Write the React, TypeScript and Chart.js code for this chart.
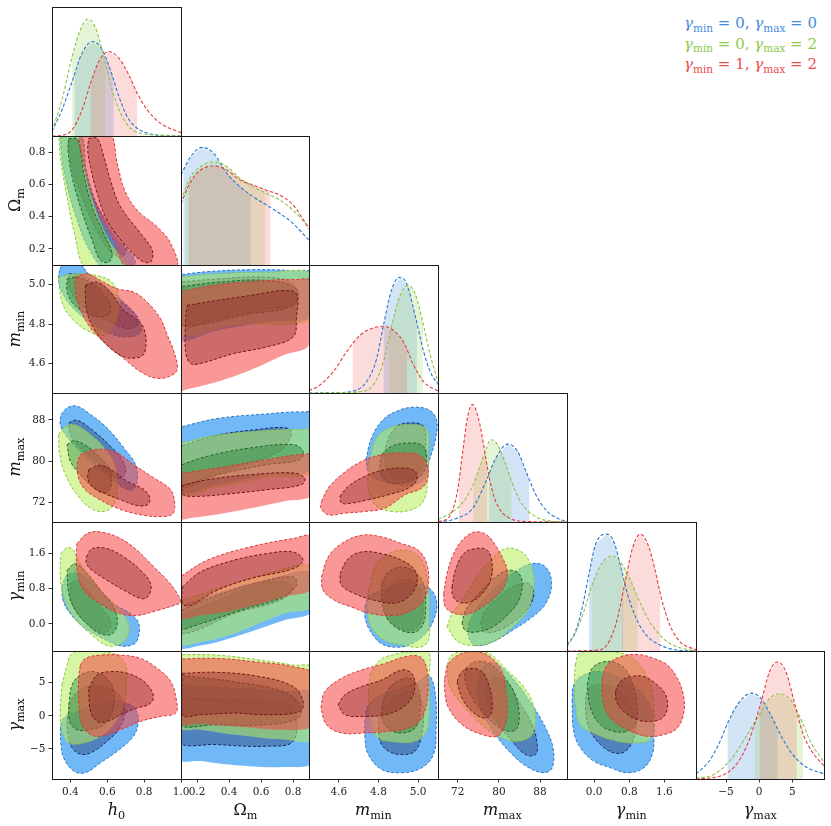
import React, { useEffect, useRef } from 'react';
import { Chart, registerables } from 'chart.js';

Chart.register(...registerables);

// ---------------- axes ----------------
const PARAMS = ['h0', 'Om', 'mmin', 'mmax', 'gmin', 'gmax'];
const RANGES: Record<string, number[]> = {
  h0: [0.3, 1.0],
  Om: [0.1, 0.9],
  mmin: [4.45, 5.1],
  mmax: [68.15, 93.25],
  gmin: [-0.62, 2.32],
  gmax: [-9.53, 9.79],
};
const TICKS: Record<string, number[]> = {
  h0: [0.4, 0.6, 0.8, 1.0],
  Om: [0.2, 0.4, 0.6, 0.8],
  mmin: [4.6, 4.8, 5.0],
  mmax: [72, 80, 88],
  gmin: [0.0, 0.8, 1.6],
  gmax: [-5, 0, 5],
};
const DECIMALS: Record<string, number> = { h0: 1, Om: 1, mmin: 1, mmax: 0, gmin: 1, gmax: 0 };

// ---------------- legend ----------------
const LEGEND = [
  { model: 'blue', gmin: '0', gmax: '0' },
  { model: 'green', gmin: '0', gmax: '2' },
  { model: 'red', gmin: '1', gmax: '2' },
];

// ---------------- 1D marginals: [value, relative density] ----------------
const H0_1D = {
  blue: [[0.3, 0.034], [0.354, 0.202], [0.409, 0.422], [0.463, 0.642], [0.521, 0.733], [0.572, 0.668], [0.617, 0.513], [0.663, 0.306], [0.708, 0.15], [0.762, 0.06], [0.835, 0.016], [0.926, 0.003], [1.0, 0.0]],
  green: [[0.3, 0.039], [0.354, 0.28], [0.409, 0.614], [0.454, 0.824], [0.496, 0.907], [0.536, 0.839], [0.581, 0.617], [0.626, 0.358], [0.672, 0.176], [0.726, 0.059], [0.781, 0.021], [0.853, 0.008], [1.0, 0.0]],
  red: [[0.3, 0.0], [0.354, 0.005], [0.409, 0.047], [0.463, 0.202], [0.509, 0.409], [0.554, 0.578], [0.608, 0.655], [0.663, 0.603], [0.717, 0.474], [0.762, 0.332], [0.817, 0.202], [0.889, 0.098], [1.0, 0.026]],
};
const H0_CI = { blue: [0.421, 0.635], green: [0.409, 0.59], red: [0.509, 0.762] };

const OM_1D = {
  blue: [[0.1, 0.697], [0.16, 0.839], [0.232, 0.912], [0.305, 0.865], [0.387, 0.71], [0.47, 0.606], [0.553, 0.528], [0.635, 0.464], [0.718, 0.399], [0.801, 0.321], [0.9, 0.192]],
  green: [[0.1, 0.503], [0.16, 0.684], [0.222, 0.762], [0.305, 0.801], [0.387, 0.762], [0.47, 0.671], [0.553, 0.606], [0.635, 0.554], [0.718, 0.503], [0.801, 0.425], [0.9, 0.295]],
  red: [[0.1, 0.477], [0.16, 0.645], [0.222, 0.736], [0.305, 0.767], [0.387, 0.736], [0.47, 0.658], [0.553, 0.619], [0.635, 0.58], [0.718, 0.541], [0.801, 0.464], [0.9, 0.282]],
};
const OM_CI = { blue: [0.114, 0.536], green: [0.129, 0.625], red: [0.15, 0.66] };

const MMIN_1D = {
  blue: [[4.45, 0.0], [4.57, 0.002], [4.656, 0.01], [4.74, 0.088], [4.791, 0.269], [4.825, 0.528], [4.867, 0.813], [4.909, 0.904], [4.943, 0.85], [4.985, 0.604], [5.027, 0.326], [5.061, 0.166], [5.1, 0.067]],
  green: [[4.45, 0.0], [4.6, 0.002], [4.707, 0.01], [4.774, 0.062], [4.825, 0.244], [4.867, 0.528], [4.909, 0.762], [4.951, 0.839], [4.985, 0.775], [5.027, 0.528], [5.061, 0.295], [5.1, 0.088]],
  red: [[4.45, 0.016], [4.504, 0.062], [4.572, 0.166], [4.639, 0.321], [4.707, 0.451], [4.774, 0.508], [4.825, 0.521], [4.875, 0.49], [4.926, 0.399], [4.977, 0.218], [5.027, 0.088], [5.1, 0.016]],
};
const MMIN_CI = { blue: [4.825, 4.994], green: [4.85, 5.024], red: [4.669, 4.946] };

const MMAX_1D = {
  blue: [[68.2, 0.0], [71.59, 0.026], [74.85, 0.104], [77.46, 0.313], [79.41, 0.495], [81.7, 0.604], [83.65, 0.547], [85.28, 0.391], [87.24, 0.208], [89.19, 0.091], [91.8, 0.021], [93.3, 0.005]],
  green: [[68.2, 0.021], [70.94, 0.078], [73.55, 0.182], [75.5, 0.339], [77.13, 0.521], [78.44, 0.638], [79.74, 0.599], [81.37, 0.443], [83.0, 0.26], [84.63, 0.13], [87.24, 0.039], [90.5, 0.005], [93.3, 0.0]],
  red: [[68.2, 0.003], [70.29, 0.039], [71.92, 0.234], [72.89, 0.521], [73.87, 0.807], [74.85, 0.911], [75.83, 0.833], [76.81, 0.651], [77.78, 0.417], [78.76, 0.234], [80.07, 0.104], [82.02, 0.031], [84.63, 0.005], [93.3, 0.0]],
};
const MMAX_CI = { blue: [77.98, 85.93], green: [74.98, 82.48], red: [72.24, 77.78] };

const GMIN_1D = {
  blue: [[-0.62, 0.047], [-0.428, 0.151], [-0.275, 0.333], [-0.121, 0.594], [0.032, 0.828], [0.286, 0.906], [0.455, 0.841], [0.608, 0.646], [0.762, 0.438], [0.954, 0.255], [1.184, 0.125], [1.491, 0.047], [1.875, 0.008], [2.32, 0.0]],
  green: [[-0.62, 0.034], [-0.428, 0.138], [-0.236, 0.307], [-0.044, 0.516], [0.186, 0.685], [0.416, 0.737], [0.608, 0.685], [0.8, 0.568], [1.03, 0.385], [1.261, 0.229], [1.568, 0.099], [1.875, 0.034], [2.32, 0.0]],
  red: [[-0.62, 0.0], [0.109, 0.008], [0.34, 0.073], [0.531, 0.255], [0.723, 0.568], [0.877, 0.802], [1.053, 0.906], [1.222, 0.828], [1.376, 0.646], [1.529, 0.411], [1.721, 0.203], [1.951, 0.073], [2.32, 0.008]],
};
const GMIN_CI = { blue: [-0.121, 0.662], green: [-0.06, 0.992], red: [0.631, 1.506] };

const GMAX_1D = {
  blue: [[-9.53, 0.039], [-7.68, 0.131], [-6.19, 0.261], [-4.69, 0.444], [-3.19, 0.587], [-1.19, 0.671], [0.3, 0.627], [1.8, 0.496], [3.3, 0.339], [4.8, 0.209], [6.79, 0.104], [9.79, 0.039]],
  green: [[-9.53, 0.005], [-6.68, 0.039], [-4.19, 0.157], [-2.19, 0.313], [-0.2, 0.483], [1.55, 0.627], [3.05, 0.666], [4.8, 0.614], [6.29, 0.47], [7.79, 0.287], [9.79, 0.131]],
  red: [[-9.53, 0.0], [-5.69, 0.026], [-3.19, 0.131], [-1.44, 0.313], [0.3, 0.601], [1.55, 0.836], [2.8, 0.914], [4.05, 0.836], [5.3, 0.601], [6.54, 0.366], [8.04, 0.209], [9.79, 0.104]],
};
const GMAX_CI = { blue: [-4.79, 2.8], green: [-0.69, 6.64], red: [0.05, 5.69] };

// ---------------- 2D credible contours: outer (95%) and inner (68%) ----------------
const OM_vs_H0 = {
  blue: {
    outer: [[0.345, 0.937], [0.45, 0.937], [0.49, 0.668], [0.55, 0.46], [0.64, 0.28], [0.75, 0.13], [0.72, 0.06], [0.6, 0.06], [0.5, 0.2], [0.43, 0.4], [0.38, 0.6], [0.35, 0.8]],
    inner: [[0.39, 0.88], [0.44, 0.88], [0.48, 0.66], [0.54, 0.48], [0.63, 0.32], [0.7, 0.2], [0.68, 0.15], [0.62, 0.18], [0.54, 0.32], [0.47, 0.5], [0.41, 0.7]],
  },
  green: {
    outer: [[0.336, 0.937], [0.44, 0.937], [0.481, 0.668], [0.536, 0.44], [0.608, 0.253], [0.699, 0.088], [0.563, 0.025], [0.472, 0.088], [0.422, 0.295], [0.378, 0.544], [0.345, 0.772]],
    inner: [[0.391, 0.885], [0.44, 0.875], [0.472, 0.668], [0.518, 0.461], [0.581, 0.295], [0.626, 0.17], [0.608, 0.119], [0.563, 0.129], [0.518, 0.253], [0.454, 0.461], [0.409, 0.647], [0.387, 0.813]],
  },
  red: {
    outer: [[0.44, 0.927], [0.608, 0.927], [0.654, 0.73], [0.694, 0.564], [0.762, 0.44], [0.871, 0.336], [0.944, 0.233], [0.971, 0.088], [0.708, 0.088], [0.635, 0.253], [0.563, 0.398], [0.505, 0.585], [0.463, 0.772]],
    inner: [[0.499, 0.885], [0.545, 0.885], [0.581, 0.772], [0.617, 0.626], [0.672, 0.461], [0.781, 0.295], [0.844, 0.191], [0.835, 0.119], [0.781, 0.129], [0.69, 0.233], [0.599, 0.378], [0.545, 0.544], [0.509, 0.709], [0.494, 0.813]],
  },
};

const MMIN_vs_H0 = {
  blue: {
    outer: [[0.342, 5.08], [0.373, 5.113], [0.454, 5.105], [0.49, 5.063], [0.581, 4.996], [0.69, 4.911], [0.771, 4.827], [0.781, 4.76], [0.726, 4.735], [0.617, 4.751], [0.509, 4.81], [0.418, 4.878], [0.354, 4.962], [0.336, 5.029]],
    inner: [[0.391, 5.055], [0.463, 5.049], [0.545, 4.996], [0.654, 4.928], [0.753, 4.844], [0.762, 4.794], [0.708, 4.777], [0.617, 4.81], [0.509, 4.861], [0.427, 4.928], [0.391, 4.996]],
  },
  green: {
    outer: [[0.336, 5.038], [0.427, 5.055], [0.545, 5.046], [0.626, 5.012], [0.663, 4.928], [0.645, 4.81], [0.581, 4.743], [0.49, 4.768], [0.409, 4.827], [0.354, 4.911]],
    inner: [[0.382, 5.029], [0.445, 5.038], [0.527, 4.996], [0.599, 4.928], [0.617, 4.861], [0.563, 4.836], [0.472, 4.861], [0.409, 4.911], [0.382, 4.97]],
  },
  red: {
    outer: [[0.427, 5.038], [0.49, 5.055], [0.581, 5.012], [0.654, 4.979], [0.744, 4.962], [0.817, 4.911], [0.889, 4.827], [0.926, 4.743], [0.962, 4.659], [0.98, 4.575], [0.953, 4.541], [0.871, 4.524], [0.781, 4.558], [0.69, 4.625], [0.581, 4.709], [0.499, 4.794], [0.445, 4.895], [0.427, 4.979]],
    inner: [[0.481, 4.996], [0.545, 5.012], [0.617, 4.962], [0.681, 4.878], [0.753, 4.827], [0.799, 4.777], [0.808, 4.676], [0.781, 4.634], [0.69, 4.634], [0.599, 4.692], [0.527, 4.777], [0.49, 4.861], [0.481, 4.945]],
  },
};

const MMIN_vs_OM = {
  blue: {
    outer: [[0.077, 5.049], [0.263, 5.066], [0.532, 5.076], [0.801, 5.071], [0.925, 5.055], [0.925, 4.844], [0.635, 4.81], [0.325, 4.768], [0.077, 4.726]],
    inner: [[0.077, 5.012], [0.325, 5.029], [0.635, 5.038], [0.801, 5.004], [0.821, 4.911], [0.635, 4.878], [0.325, 4.827], [0.077, 4.785]],
  },
  green: {
    outer: [[0.077, 5.038], [0.325, 5.055], [0.635, 5.063], [0.925, 5.049], [0.925, 4.827], [0.429, 4.794], [0.077, 4.751]],
    inner: [[0.077, 4.987], [0.325, 5.012], [0.635, 5.021], [0.821, 4.979], [0.801, 4.895], [0.532, 4.852], [0.077, 4.802]],
  },
  red: {
    outer: [[0.077, 4.962], [0.325, 4.999], [0.635, 5.021], [0.801, 5.026], [0.925, 5.012], [0.904, 4.701], [0.739, 4.642], [0.532, 4.566], [0.325, 4.507], [0.139, 4.469], [0.077, 4.465]],
    inner: [[0.139, 4.895], [0.325, 4.92], [0.532, 4.945], [0.739, 4.97], [0.821, 4.953], [0.821, 4.827], [0.801, 4.735], [0.635, 4.684], [0.429, 4.65], [0.222, 4.6], [0.16, 4.6], [0.129, 4.659], [0.129, 4.827]],
  },
};

const MMAX_vs_H0 = {
  blue: {
    outer: [[0.349, 89.05], [0.382, 90.35], [0.436, 90.68], [0.509, 89.05], [0.599, 86.45], [0.69, 82.55], [0.753, 79.3], [0.762, 76.05], [0.735, 74.43], [0.69, 74.75], [0.617, 76.7], [0.527, 79.3], [0.436, 82.55], [0.373, 85.15], [0.345, 87.1]],
    inner: [[0.391, 87.43], [0.436, 87.95], [0.527, 85.8], [0.617, 82.88], [0.681, 80.28], [0.699, 78.0], [0.672, 76.7], [0.617, 77.35], [0.545, 79.63], [0.454, 82.55], [0.4, 85.15]],
  },
  green: {
    outer: [[0.336, 85.15], [0.363, 86.45], [0.418, 87.1], [0.509, 85.15], [0.599, 81.9], [0.645, 78.65], [0.654, 74.75], [0.635, 71.5], [0.581, 70.2], [0.509, 70.85], [0.436, 73.45], [0.373, 77.35], [0.342, 81.25]],
    inner: [[0.382, 83.2], [0.418, 83.98], [0.49, 82.88], [0.563, 80.6], [0.617, 78.0], [0.617, 74.75], [0.581, 73.78], [0.527, 74.75], [0.454, 77.35], [0.4, 79.95]],
  },
  red: {
    outer: [[0.454, 81.25], [0.527, 82.23], [0.635, 81.9], [0.744, 79.3], [0.853, 76.7], [0.935, 74.75], [0.962, 72.8], [0.958, 69.88], [0.908, 69.23], [0.781, 69.55], [0.654, 70.85], [0.545, 72.8], [0.472, 74.75], [0.44, 77.35], [0.44, 79.95]],
    inner: [[0.499, 78.33], [0.563, 79.17], [0.635, 78.0], [0.708, 76.05], [0.799, 74.43], [0.831, 72.8], [0.817, 71.5], [0.762, 71.37], [0.672, 72.48], [0.581, 73.78], [0.518, 75.08], [0.494, 76.7]],
  },
};

const MMAX_vs_OM = {
  blue: {
    outer: [[0.077, 86.45], [0.325, 88.27], [0.635, 89.18], [0.842, 89.57], [0.925, 89.05], [0.925, 78.65], [0.635, 77.35], [0.325, 75.4], [0.077, 74.1]],
    inner: [[0.077, 82.68], [0.325, 85.02], [0.553, 86.06], [0.759, 86.45], [0.79, 85.15], [0.718, 81.9], [0.429, 78.65], [0.181, 75.4], [0.077, 74.75]],
  },
  green: {
    outer: [[0.077, 83.33], [0.325, 85.02], [0.635, 85.93], [0.842, 86.13], [0.925, 85.8], [0.925, 78.0], [0.635, 76.7], [0.325, 74.75], [0.077, 73.45]],
    inner: [[0.077, 78.98], [0.263, 80.93], [0.532, 82.55], [0.801, 83.2], [0.863, 81.9], [0.842, 80.28], [0.635, 79.3], [0.325, 77.35], [0.077, 75.4]],
  },
  red: {
    outer: [[0.077, 77.48], [0.325, 78.65], [0.635, 80.28], [0.842, 81.25], [0.925, 80.93], [0.925, 73.58], [0.739, 72.15], [0.429, 70.2], [0.181, 69.03], [0.077, 69.03]],
    inner: [[0.108, 75.27], [0.263, 76.38], [0.532, 77.35], [0.801, 77.68], [0.873, 76.7], [0.852, 75.4], [0.635, 74.43], [0.387, 73.58], [0.181, 73.13], [0.108, 73.58]],
  },
};

const MMAX_vs_MMIN = {
  blue: {
    outer: [[4.737, 80.28], [4.765, 84.5], [4.824, 88.08], [4.9, 89.83], [4.984, 90.48], [5.06, 89.83], [5.094, 87.75], [5.085, 83.85], [5.055, 79.95], [5.035, 76.7], [4.967, 75.4], [4.85, 75.73], [4.757, 77.35]],
    inner: [[4.85, 84.5], [4.892, 86.78], [4.967, 87.43], [5.026, 86.78], [5.038, 83.2], [5.026, 79.3], [4.984, 77.03], [4.9, 76.7], [4.841, 78.65], [4.833, 81.9]],
  },
  green: {
    outer: [[4.749, 79.3], [4.791, 84.5], [4.866, 86.58], [4.967, 87.1], [5.043, 86.13], [5.052, 81.25], [5.048, 76.05], [5.026, 72.15], [4.967, 70.53], [4.866, 70.2], [4.782, 71.5], [4.749, 74.75]],
    inner: [[4.816, 81.25], [4.866, 82.88], [4.951, 83.53], [5.026, 82.88], [5.043, 79.95], [5.018, 77.35], [4.951, 76.05], [4.866, 75.73], [4.816, 77.03], [4.808, 79.3]],
  },
  red: {
    outer: [[4.513, 72.15], [4.547, 74.75], [4.614, 77.35], [4.715, 79.95], [4.816, 81.25], [4.917, 81.58], [5.001, 81.25], [5.043, 79.63], [5.048, 76.7], [5.018, 74.75], [4.934, 73.45], [4.833, 70.85], [4.732, 70.2], [4.631, 69.88], [4.547, 69.55], [4.51, 70.85]],
    inner: [[4.606, 73.13], [4.648, 75.08], [4.732, 77.03], [4.833, 78.33], [4.934, 78.65], [4.984, 78.0], [4.993, 76.38], [4.951, 74.75], [4.85, 73.45], [4.749, 72.48], [4.664, 71.83], [4.614, 71.83]],
  },
};

const GMIN_vs_H0 = {
  blue: {
    outer: [[0.354, 0.838], [0.382, 1.104], [0.454, 1.142], [0.545, 0.838], [0.635, 0.457], [0.726, 0.229], [0.771, 0.0], [0.762, -0.38], [0.726, -0.494], [0.663, -0.494], [0.563, -0.304], [0.472, -0.076], [0.4, 0.229], [0.36, 0.533]],
    inner: [[0.4, 0.914], [0.436, 0.99], [0.509, 0.686], [0.581, 0.305], [0.617, 0.076], [0.608, -0.152], [0.563, -0.19], [0.49, 0.0], [0.427, 0.305], [0.4, 0.609]],
  },
  green: {
    outer: [[0.349, 1.599], [0.382, 1.736], [0.418, 1.675], [0.454, 1.371], [0.509, 1.066], [0.581, 0.686], [0.654, 0.381], [0.708, 0.076], [0.717, -0.228], [0.672, -0.456], [0.599, -0.494], [0.509, -0.228], [0.418, 0.153], [0.363, 0.609], [0.345, 1.142]],
    inner: [[0.382, 1.218], [0.427, 1.371], [0.49, 1.142], [0.563, 0.762], [0.635, 0.381], [0.654, 0.0], [0.626, -0.228], [0.563, -0.228], [0.49, 0.0], [0.427, 0.305], [0.391, 0.686]],
  },
  red: {
    outer: [[0.436, 1.827], [0.49, 2.056], [0.563, 2.094], [0.672, 1.942], [0.762, 1.675], [0.853, 1.295], [0.926, 0.99], [0.98, 0.686], [0.998, 0.495], [0.962, 0.419], [0.871, 0.305], [0.762, 0.191], [0.672, 0.229], [0.563, 0.457], [0.472, 0.762], [0.436, 1.218], [0.432, 1.599]],
    inner: [[0.487, 1.523], [0.518, 1.713], [0.599, 1.713], [0.69, 1.523], [0.781, 1.218], [0.835, 0.914], [0.826, 0.647], [0.79, 0.571], [0.708, 0.724], [0.599, 0.99], [0.518, 1.218], [0.487, 1.371]],
  },
};

const GMIN_vs_OM = {
  blue: {
    outer: [[0.077, 0.381], [0.325, 0.686], [0.635, 0.99], [0.925, 1.142], [0.925, 0.305], [0.739, 0.076], [0.429, -0.304], [0.222, -0.494], [0.077, -0.517]],
    inner: [[0.077, 0.153], [0.325, 0.533], [0.594, 0.914], [0.759, 0.952], [0.801, 0.8], [0.718, 0.533], [0.429, 0.229], [0.222, -0.114], [0.108, -0.228], [0.077, -0.152]],
  },
  green: {
    outer: [[0.077, 0.495], [0.325, 0.8], [0.635, 1.142], [0.925, 1.295], [0.925, 0.419], [0.739, 0.229], [0.429, -0.228], [0.222, -0.418], [0.077, -0.441]],
    inner: [[0.077, 0.267], [0.325, 0.647], [0.594, 0.952], [0.801, 1.066], [0.821, 0.876], [0.739, 0.609], [0.47, 0.305], [0.222, 0.0], [0.077, -0.114]],
  },
  red: {
    outer: [[0.077, 1.028], [0.263, 1.447], [0.532, 1.751], [0.801, 1.942], [0.925, 1.98], [0.925, 0.838], [0.739, 0.609], [0.429, 0.305], [0.222, 0.191], [0.077, 0.153]],
    inner: [[0.108, 0.838], [0.222, 1.18], [0.429, 1.447], [0.635, 1.599], [0.801, 1.637], [0.863, 1.447], [0.801, 1.256], [0.532, 1.028], [0.325, 0.762], [0.16, 0.419], [0.108, 0.457]],
  },
};

const GMIN_vs_MMIN = {
  blue: {
    outer: [[4.732, 0.381], [4.749, 0.609], [4.816, 0.762], [4.917, 0.914], [5.001, 0.914], [5.068, 0.762], [5.094, 0.457], [5.077, 0.076], [5.035, -0.228], [4.967, -0.456], [4.9, -0.533], [4.816, -0.456], [4.757, -0.152], [4.732, 0.153]],
    inner: [[4.824, 0.533], [4.85, 0.8], [4.908, 0.99], [4.967, 0.99], [5.009, 0.762], [5.026, 0.381], [5.009, 0.0], [4.967, -0.152], [4.9, -0.076], [4.841, 0.153]],
  },
  green: {
    outer: [[4.749, 0.762], [4.791, 1.371], [4.85, 1.599], [4.917, 1.675], [4.984, 1.599], [5.026, 1.371], [5.052, 0.762], [5.055, 0.153], [5.052, -0.38], [5.009, -0.533], [4.934, -0.494], [4.833, -0.38], [4.765, -0.076], [4.745, 0.305]],
    inner: [[4.816, 0.914], [4.85, 1.18], [4.917, 1.295], [4.984, 1.18], [5.026, 0.914], [5.038, 0.457], [5.026, 0.0], [4.984, -0.19], [4.917, -0.152], [4.85, 0.076], [4.819, 0.457]],
  },
  red: {
    outer: [[4.513, 1.066], [4.547, 1.523], [4.614, 1.827], [4.715, 2.018], [4.816, 1.98], [4.917, 1.827], [5.001, 1.675], [5.043, 1.371], [5.052, 0.914], [5.026, 0.533], [4.967, 0.305], [4.883, 0.191], [4.765, 0.229], [4.664, 0.381], [4.58, 0.533], [4.521, 0.762]],
    inner: [[4.606, 1.142], [4.648, 1.485], [4.715, 1.637], [4.816, 1.599], [4.917, 1.447], [4.984, 1.218], [4.993, 0.914], [4.951, 0.609], [4.883, 0.472], [4.782, 0.533], [4.681, 0.686], [4.614, 0.876]],
  },
};

const GMIN_vs_MMAX = {
  blue: {
    outer: [[74.13, 0.0], [75.43, 0.305], [78.68, 0.762], [82.58, 1.142], [86.48, 1.371], [89.08, 1.295], [90.25, 0.914], [89.08, 0.457], [86.48, 0.153], [82.58, -0.152], [78.68, -0.418], [75.43, -0.494], [74.13, -0.304]],
    inner: [[76.41, 0.0], [77.38, 0.305], [79.98, 0.609], [83.23, 0.876], [85.83, 0.914], [86.81, 0.686], [85.83, 0.381], [83.23, 0.076], [79.98, -0.152], [77.38, -0.19]],
  },
  green: {
    outer: [[69.91, -0.076], [70.88, 0.229], [72.83, 0.533], [76.08, 1.142], [78.68, 1.485], [81.28, 1.713], [83.88, 1.675], [85.83, 1.447], [86.81, 1.066], [86.48, 0.609], [85.18, 0.229], [82.58, -0.076], [79.33, -0.38], [76.08, -0.494], [72.18, -0.418]],
    inner: [[72.83, 0.0], [73.48, 0.305], [76.08, 0.686], [79.33, 1.066], [81.93, 1.218], [83.88, 1.142], [84.53, 0.914], [83.88, 0.533], [81.93, 0.229], [78.68, -0.076], [75.43, -0.19], [73.48, -0.152]],
  },
  red: {
    outer: [[69.26, 0.686], [69.91, 1.142], [71.21, 1.599], [73.16, 1.942], [75.43, 2.094], [77.71, 2.018], [79.33, 1.789], [80.63, 1.523], [81.61, 1.218], [81.28, 0.914], [79.33, 0.609], [76.73, 0.381], [74.13, 0.229], [71.53, 0.229], [69.58, 0.381]],
    inner: [[70.88, 0.838], [71.53, 1.218], [73.16, 1.599], [75.43, 1.713], [77.71, 1.675], [78.68, 1.371], [78.36, 0.99], [76.73, 0.686], [74.46, 0.495], [72.18, 0.495], [71.01, 0.647]],
  },
};

const GMAX_vs_H0 = {
  blue: {
    outer: [[0.345, -2.08], [0.363, -0.33], [0.436, 0.67], [0.527, 1.67], [0.635, 2.17], [0.726, 1.67], [0.766, 0.17], [0.762, -1.83], [0.735, -3.33], [0.654, -5.33], [0.563, -7.08], [0.481, -8.58], [0.418, -8.33], [0.363, -6.33], [0.349, -4.33]],
    inner: [[0.382, -0.58], [0.409, 2.67], [0.472, 4.17], [0.563, 4.42], [0.645, 3.67], [0.69, 1.67], [0.69, -0.33], [0.654, -2.33], [0.599, -3.83], [0.527, -5.33], [0.463, -5.83], [0.409, -4.83], [0.387, -2.83]],
  },
  green: {
    outer: [[0.354, 4.67], [0.382, 7.67], [0.409, 9.42], [0.49, 9.92], [0.581, 9.67], [0.654, 9.17], [0.699, 7.67], [0.704, 4.67], [0.69, 1.67], [0.635, -1.33], [0.563, -3.08], [0.472, -4.08], [0.391, -4.08], [0.354, -2.33], [0.345, 0.67]],
    inner: [[0.391, 1.67], [0.409, 4.67], [0.454, 6.17], [0.527, 6.67], [0.599, 5.67], [0.635, 3.67], [0.626, 0.67], [0.581, -1.33], [0.509, -2.08], [0.436, -2.08], [0.396, -0.83]],
  },
  red: {
    outer: [[0.454, 7.67], [0.481, 8.67], [0.563, 9.17], [0.672, 9.17], [0.781, 8.67], [0.871, 7.17], [0.944, 5.17], [0.976, 2.17], [0.971, 0.42], [0.889, -0.08], [0.781, -0.83], [0.672, -2.08], [0.563, -3.08], [0.509, -2.83], [0.463, -1.33], [0.445, 2.17], [0.445, 5.67]],
    inner: [[0.499, 4.17], [0.545, 6.17], [0.617, 6.67], [0.708, 6.42], [0.799, 5.17], [0.849, 3.17], [0.835, 1.92], [0.762, 1.17], [0.672, 0.17], [0.599, -0.83], [0.545, -0.83], [0.509, 0.67]],
  },
};

const GMAX_vs_OM = {
  blue: {
    outer: [[0.077, 4.67], [0.429, 4.17], [0.739, 3.67], [0.925, 3.17], [0.925, -6.83], [0.739, -7.73], [0.429, -7.43], [0.222, -6.83], [0.077, -6.33]],
    inner: [[0.077, 2.67], [0.429, 2.42], [0.739, 1.92], [0.811, 0.67], [0.801, -3.83], [0.635, -4.58], [0.325, -4.33], [0.077, -3.83]],
  },
  green: {
    outer: [[0.077, 9.27], [0.325, 9.17], [0.594, 8.42], [0.801, 7.67], [0.925, 7.17], [0.925, -3.33], [0.739, -3.58], [0.429, -2.83], [0.222, -2.08], [0.077, -1.58]],
    inner: [[0.077, 6.17], [0.429, 5.17], [0.739, 3.67], [0.842, 1.67], [0.832, -0.33], [0.635, -1.33], [0.325, -1.33], [0.077, -1.08]],
  },
  red: {
    outer: [[0.077, 8.57], [0.325, 8.67], [0.594, 8.07], [0.801, 7.42], [0.925, 6.17], [0.925, -1.33], [0.739, -2.08], [0.429, -1.58], [0.222, -1.23], [0.077, -0.93]],
    inner: [[0.108, 6.42], [0.325, 6.57], [0.594, 5.92], [0.801, 4.42], [0.863, 2.17], [0.842, 0.67], [0.635, 0.17], [0.429, 0.42], [0.222, 0.17], [0.108, 0.17]],
  },
};

const GMAX_vs_MMIN = {
  blue: {
    outer: [[4.732, -0.33], [4.749, 1.67], [4.816, 3.17], [4.917, 4.17], [5.001, 5.17], [5.052, 6.17], [5.085, 3.67], [5.09, -2.33], [5.077, -5.83], [5.018, -7.83], [4.917, -8.58], [4.816, -8.08], [4.749, -5.83], [4.732, -3.33]],
    inner: [[4.799, -1.33], [4.816, 0.67], [4.883, 2.67], [4.951, 3.67], [5.001, 3.17], [5.026, 0.67], [5.018, -2.83], [4.984, -5.33], [4.917, -5.83], [4.85, -5.33], [4.808, -3.83]],
  },
  green: {
    outer: [[4.757, 6.17], [4.808, 8.42], [4.9, 9.42], [4.984, 9.67], [5.052, 9.67], [5.055, 5.67], [5.055, 0.67], [5.043, -2.33], [4.984, -3.83], [4.883, -3.93], [4.799, -3.33], [4.765, -1.33], [4.749, 2.67]],
    inner: [[4.816, 1.17], [4.841, 3.67], [4.892, 5.17], [4.959, 5.67], [5.001, 4.17], [5.009, 0.67], [4.984, -1.83], [4.917, -2.58], [4.858, -2.08], [4.824, -0.83]],
  },
  red: {
    outer: [[4.51, 1.17], [4.53, 3.67], [4.614, 5.67], [4.715, 6.92], [4.833, 7.92], [4.934, 8.92], [5.009, 8.92], [5.043, 7.17], [5.048, 3.17], [5.018, -0.33], [4.951, -1.83], [4.85, -2.33], [4.732, -2.58], [4.614, -2.58], [4.538, -1.33]],
    inner: [[4.597, 1.67], [4.631, 3.17], [4.715, 4.42], [4.816, 5.42], [4.917, 6.92], [4.967, 6.42], [4.984, 4.67], [4.967, 2.67], [4.917, 1.17], [4.833, 0.17], [4.732, -0.08], [4.631, 0.17]],
  },
};

const GMAX_vs_MMAX = {
  blue: {
    outer: [[76.08, 5.67], [77.71, 7.92], [79.98, 7.67], [83.23, 5.17], [86.48, 1.67], [89.08, -1.83], [90.51, -4.83], [90.38, -7.83], [88.76, -8.58], [85.83, -7.83], [82.58, -5.83], [79.33, -2.83], [76.73, 0.67], [75.76, 3.67]],
    inner: [[77.38, 3.67], [78.68, 5.67], [81.28, 5.17], [83.88, 2.17], [86.48, -1.33], [87.46, -4.33], [87.13, -5.83], [85.18, -5.83], [82.58, -3.83], [79.98, -1.33], [78.03, 1.17]],
  },
  green: {
    outer: [[69.91, 7.67], [70.88, 9.17], [73.48, 9.77], [77.38, 9.67], [79.33, 8.67], [81.93, 6.67], [84.53, 4.67], [86.48, 2.17], [87.13, -0.33], [86.48, -2.83], [83.88, -3.83], [80.63, -3.33], [77.38, -1.83], [73.48, 1.17], [70.88, 3.67], [70.1, 5.67]],
    inner: [[73.48, 7.17], [75.43, 8.17], [78.03, 7.92], [80.63, 6.17], [82.91, 3.67], [83.88, 0.67], [83.56, -1.83], [81.93, -2.33], [79.33, -1.33], [76.73, 0.67], [74.46, 3.17], [73.35, 5.67]],
  },
  red: {
    outer: [[69.45, 5.67], [70.23, 7.92], [72.83, 9.42], [76.08, 9.67], [78.68, 8.67], [80.63, 6.67], [81.28, 4.17], [81.61, 0.67], [80.96, -1.83], [79.66, -3.08], [76.73, -2.83], [72.83, -1.33], [70.23, 1.17], [69.45, 3.67]],
    inner: [[71.86, 5.17], [72.83, 6.67], [74.78, 7.17], [76.73, 6.67], [78.03, 4.67], [78.68, 2.17], [78.36, 0.17], [77.06, -0.33], [74.78, 0.67], [72.83, 2.67]],
  },
};

const GMAX_vs_GMIN = {
  blue: {
    outer: [[-0.504, 2.17], [-0.466, 4.67], [-0.238, 6.17], [0.143, 6.67], [0.6, 5.67], [1.056, 3.67], [1.323, 0.67], [1.361, -3.33], [1.323, -5.83], [1.133, -7.83], [0.752, -8.58], [0.371, -7.83], [-0.009, -6.83], [-0.314, -4.83], [-0.466, -2.33]],
    inner: [[-0.2, 1.67], [-0.162, 3.67], [-0.009, 4.67], [0.295, 4.67], [0.6, 3.67], [0.828, 1.67], [0.942, -0.83], [0.904, -3.33], [0.714, -5.33], [0.447, -5.58], [0.143, -4.33], [-0.085, -2.33], [-0.177, -0.33]],
  },
  green: {
    outer: [[-0.428, 7.67], [-0.352, 9.42], [-0.009, 9.77], [0.447, 9.67], [0.828, 8.92], [1.095, 7.17], [1.285, 4.67], [1.361, 1.67], [1.361, -1.83], [1.285, -3.58], [0.98, -4.08], [0.523, -3.83], [0.067, -2.83], [-0.314, -1.33], [-0.428, 1.67], [-0.451, 5.17]],
    inner: [[-0.162, 4.67], [-0.047, 7.17], [0.219, 8.17], [0.523, 7.92], [0.752, 6.67], [0.904, 4.17], [0.98, 1.67], [0.942, -1.33], [0.752, -2.33], [0.447, -2.33], [0.143, -1.33], [-0.085, 1.17]],
  },
  red: {
    outer: [[0.181, 5.67], [0.295, 7.67], [0.6, 8.92], [0.98, 9.27], [1.361, 8.67], [1.666, 7.67], [1.894, 5.67], [2.031, 3.17], [2.046, 0.67], [1.894, -1.83], [1.589, -2.83], [1.209, -3.08], [0.752, -2.08], [0.371, -0.33], [0.204, 2.17]],
    inner: [[0.485, 3.67], [0.6, 5.17], [0.828, 5.92], [1.133, 5.92], [1.437, 4.67], [1.627, 3.17], [1.666, 1.17], [1.551, -0.33], [1.285, -0.83], [0.98, -0.58], [0.676, 0.67], [0.508, 2.17]],
  },
};

// lookup tables built from the arrays above
const DIAG: Record<string, any> = {
  h0: [H0_1D, H0_CI], Om: [OM_1D, OM_CI], mmin: [MMIN_1D, MMIN_CI],
  mmax: [MMAX_1D, MMAX_CI], gmin: [GMIN_1D, GMIN_CI], gmax: [GMAX_1D, GMAX_CI],
};
const PAIRS: Record<string, any> = {
  'Om|h0': OM_vs_H0,
  'mmin|h0': MMIN_vs_H0, 'mmin|Om': MMIN_vs_OM,
  'mmax|h0': MMAX_vs_H0, 'mmax|Om': MMAX_vs_OM, 'mmax|mmin': MMAX_vs_MMIN,
  'gmin|h0': GMIN_vs_H0, 'gmin|Om': GMIN_vs_OM, 'gmin|mmin': GMIN_vs_MMIN, 'gmin|mmax': GMIN_vs_MMAX,
  'gmax|h0': GMAX_vs_H0, 'gmax|Om': GMAX_vs_OM, 'gmax|mmin': GMAX_vs_MMIN, 'gmax|mmax': GMAX_vs_MMAX, 'gmax|gmin': GMAX_vs_GMIN,
};

// ---------------- styles ----------------
const MODELS = ['blue', 'green', 'red'];
const STYLE: Record<string, any> = {
  blue: {
    outerFill: 'rgba(10,135,240,0.58)', innerFill: 'rgba(35,55,115,0.42)',
    outerLine: 'rgb(40,115,200)', innerLine: 'rgb(25,40,95)',
    line1d: 'rgb(40,120,210)', fill1d: 'rgba(50,130,215,0.22)', text: 'rgb(66,140,220)',
  },
  green: {
    outerFill: 'rgba(180,238,90,0.55)', innerFill: 'rgba(35,130,55,0.42)',
    outerLine: 'rgb(140,195,70)', innerLine: 'rgb(40,95,40)',
    line1d: 'rgb(140,195,70)', fill1d: 'rgba(150,210,90,0.25)', text: 'rgb(140,200,70)',
  },
  red: {
    outerFill: 'rgba(245,65,65,0.55)', innerFill: 'rgba(120,25,25,0.35)',
    outerLine: 'rgb(215,55,55)', innerLine: 'rgb(115,20,20)',
    line1d: 'rgb(230,60,60)', fill1d: 'rgba(240,90,90,0.22)', text: 'rgb(238,75,75)',
  },
};

// ---------------- layout ----------------
const ORIGIN_X = 52;
const ORIGIN_Y = 7.3;
const STEP = 128.7;
const ML = 40; // room for y tick labels
const MB = 30; // room for x tick labels
const MT = 10;
const MR = 14;
const edge = (o: number, i: number) => Math.round(o + i * STEP);
const FONT = "'DejaVu Serif', 'Liberation Serif', serif";

const frame = {
  id: 'frame',
  afterDraw(chart: any) {
    const { ctx, chartArea: a } = chart;
    ctx.save();
    ctx.strokeStyle = '#1a1a1a';
    ctx.lineWidth = 1;
    ctx.strokeRect(Math.round(a.left) + 0.5, Math.round(a.top) + 0.5, Math.round(a.right - a.left), Math.round(a.bottom - a.top));
    ctx.restore();
  },
};

function fmt(key: string, v: number) {
  return v.toFixed(DECIMALS[key]).replace('-', '\u2212');
}

function axis(key: string, range: number[], showLabels: boolean, horizontal: boolean) {
  return {
    type: 'linear',
    min: range[0],
    max: range[1],
    display: true,
    afterFit: (s: any) => {
      if (horizontal) s.height = MB; else s.width = ML;
    },
    afterBuildTicks: (s: any) => {
      s.ticks = TICKS[key].map((v) => ({ value: v }));
    },
    border: { display: false },
    grid: {
      display: showLabels,
      drawOnChartArea: false,
      drawTicks: true,
      tickLength: 3.5,
      color: '#1a1a1a',
      lineWidth: 0.9,
    },
    ticks: {
      display: showLabels,
      autoSkip: false,
      maxRotation: 0,
      minRotation: 0,
      padding: 3,
      color: '#222',
      font: { family: FONT, size: 10.5 },
      callback: (v: number) => fmt(key, v),
    },
  };
}

function closed(poly: number[][]) {
  return [...poly, poly[0]].map(([x, y]) => ({ x, y }));
}

function withinCI(curve: number[][], ci: number[]) {
  const [lo, hi] = ci;
  const at = (x: number) => {
    for (let i = 0; i < curve.length - 1; i++) {
      const [x0, y0] = curve[i];
      const [x1, y1] = curve[i + 1];
      if (x >= x0 && x <= x1) return y0 + ((y1 - y0) * (x - x0)) / (x1 - x0);
    }
    return 0;
  };
  const inner = curve.filter(([x]) => x > lo && x < hi).map(([x, y]) => ({ x, y }));
  return [{ x: lo, y: 0 }, { x: lo, y: at(lo) }, ...inner, { x: hi, y: at(hi) }, { x: hi, y: 0 }];
}

function buildConfig(row: number, col: number) {
  const xKey = PARAMS[col];
  const yKey = PARAMS[row];
  const datasets: any[] = [];
  let yRange: number[];
  if (row === col) {
    yRange = [0, 1];
    const [curves, cis] = DIAG[xKey];
    for (const m of MODELS) {
      datasets.push({
        data: withinCI(curves[m], cis[m]),
        fill: 'origin',
        backgroundColor: STYLE[m].fill1d,
        borderWidth: 0,
        pointRadius: 0,
        tension: 0,
      });
    }
    for (const m of MODELS) {
      datasets.push({
        data: curves[m].map(([x, y]: number[]) => ({ x, y })),
        fill: false,
        borderColor: STYLE[m].line1d,
        borderWidth: 1.1,
        borderDash: [3.5, 2],
        pointRadius: 0,
        cubicInterpolationMode: 'monotone',
      });
    }
  } else {
    yRange = RANGES[yKey];
    const pair = PAIRS[yKey + '|' + xKey];
    for (const m of MODELS) {
      for (const level of ['outer', 'inner']) {
        datasets.push({
          data: closed(pair[m][level]),
          fill: 'shape',
          backgroundColor: level === 'outer' ? STYLE[m].outerFill : STYLE[m].innerFill,
          borderColor: level === 'outer' ? STYLE[m].outerLine : STYLE[m].innerLine,
          borderWidth: 1,
          borderDash: [3, 2],
          pointRadius: 0,
          tension: 0.38,
        });
      }
    }
  }
  // later datasets in the list must be painted on top
  datasets.forEach((d, i) => { d.order = datasets.length - i; });

  return {
    type: 'line',
    data: { datasets },
    options: {
      animation: false,
      responsive: false,
      maintainAspectRatio: false,
      events: [],
      parsing: false,
      normalized: false,
      layout: { padding: { top: MT, right: MR, left: 0, bottom: 0 } },
      plugins: { legend: { display: false }, tooltip: { enabled: false }, title: { display: false } },
      scales: {
        x: axis(xKey, RANGES[xKey], row === 5, true),
        y: row === col
          ? { ...axis(yKey, yRange, false, false), afterBuildTicks: (s: any) => { s.ticks = []; } }
          : axis(yKey, yRange, col === 0, false),
      },
    },
    plugins: [frame],
  };
}

function Panel({ row, col }: { row: number; col: number }) {
  const ref = useRef<HTMLCanvasElement | null>(null);
  const w = edge(ORIGIN_X, col + 1) - edge(ORIGIN_X, col);
  const h = edge(ORIGIN_Y, row + 1) - edge(ORIGIN_Y, row);
  const cw = ML + w + MR;
  const ch = MT + h + MB;
  useEffect(() => {
    const chart = new Chart(ref.current as HTMLCanvasElement, buildConfig(row, col) as any);
    return () => chart.destroy();
  }, [row, col]);
  return (
    <canvas
      ref={ref}
      width={cw}
      height={ch}
      style={{ position: 'absolute', left: edge(ORIGIN_X, col) - ML, top: edge(ORIGIN_Y, row) - MT, width: cw, height: ch }}
    />
  );
}

const sub = { fontSize: '0.7em', fontStyle: 'normal', position: 'relative' as const, top: '0.35em' };

function Label({ k }: { k: string }) {
  switch (k) {
    case 'h0': return <span><i>h</i><span style={sub}>0</span></span>;
    case 'Om': return <span>Ω<span style={sub}>m</span></span>;
    case 'mmin': return <span><i>m</i><span style={sub}>min</span></span>;
    case 'mmax': return <span><i>m</i><span style={sub}>max</span></span>;
    case 'gmin': return <span><i>γ</i><span style={sub}>min</span></span>;
    default: return <span><i>γ</i><span style={sub}>max</span></span>;
  }
}

export default function App() {
  const panels: JSX.Element[] = [];
  for (let r = 0; r < 6; r++) {
    for (let c = 0; c <= r; c++) panels.push(<Panel key={`${r}-${c}`} row={r} col={c} />);
  }
  const labelStyle = { position: 'absolute' as const, fontFamily: FONT, fontSize: 16, color: '#111', whiteSpace: 'nowrap' as const, lineHeight: 1 };
  return (
    <div style={{ position: 'absolute', left: 0, top: 0, width: 831, height: 826, background: '#fff', overflow: 'hidden' }}>
      {panels}
      {PARAMS.map((k, i) => (
        <div key={'x' + k} style={{ ...labelStyle, left: edge(ORIGIN_X, i) + STEP / 2, top: 810, transform: 'translate(-50%, -50%)' }}>
          <Label k={k} />
        </div>
      ))}
      {PARAMS.slice(1).map((k, i) => (
        <div key={'y' + k} style={{ ...labelStyle, left: 15, top: edge(ORIGIN_Y, i + 1) + STEP / 2, transform: 'translate(-50%, -50%) rotate(-90deg)' }}>
          <Label k={k} />
        </div>
      ))}
      <div style={{ position: 'absolute', right: 831 - 817, top: 14, textAlign: 'right', fontFamily: FONT, fontSize: 15, lineHeight: '19.5px' }}>
        {LEGEND.map((e) => (
          <div key={e.model} style={{ color: STYLE[e.model].text, whiteSpace: 'nowrap' }}>
            <i>γ</i><span style={sub}>min</span> = {e.gmin}, <i>γ</i><span style={sub}>max</span> = {e.gmax}
          </div>
        ))}
      </div>
    </div>
  );
}
